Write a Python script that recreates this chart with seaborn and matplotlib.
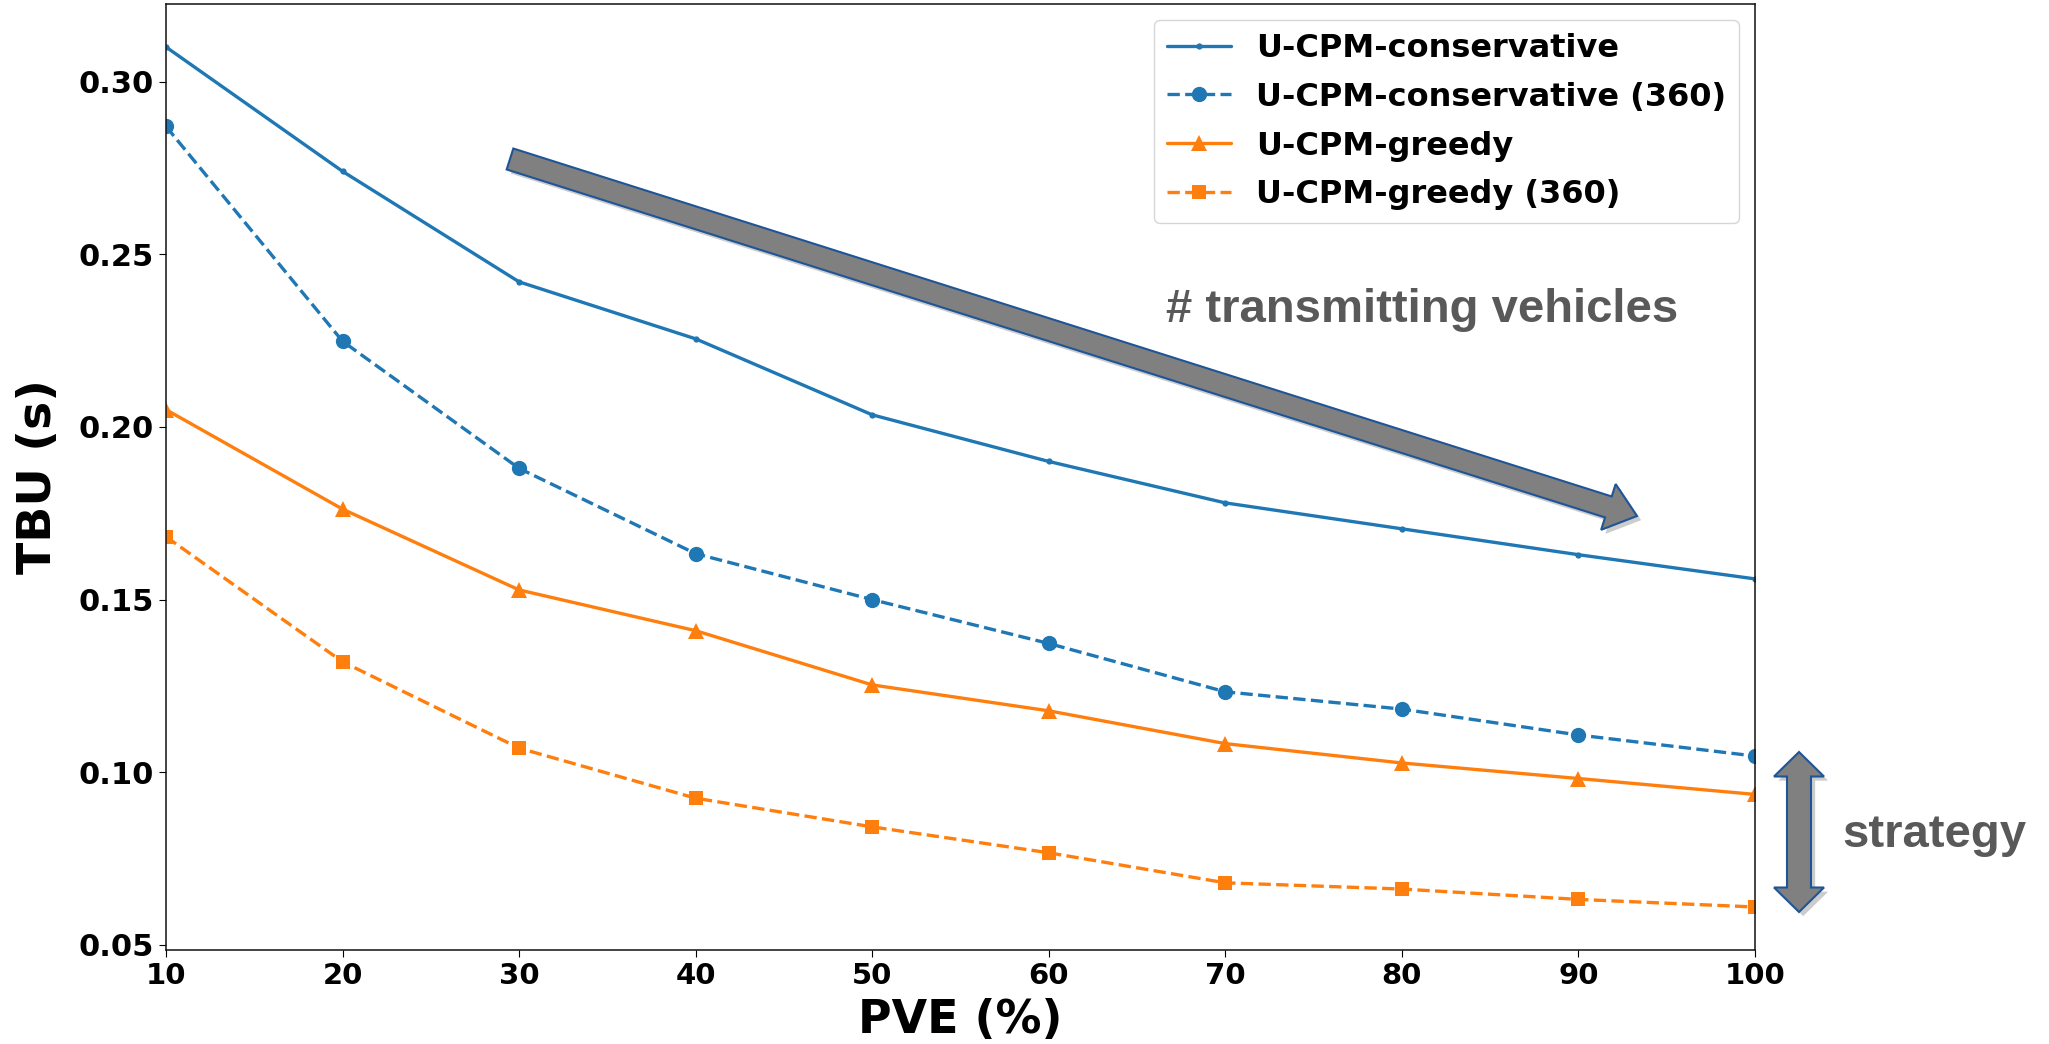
"""
TBU vs PVE for the U-CPM variants, with the two annotation arrows.
"""

import numpy as np
import pandas as pd
import matplotlib
matplotlib.use("Agg")
import matplotlib.pyplot as plt
import matplotlib.patches as mpatches
import matplotlib.patheffects as pe
import seaborn as sns

# values
pve = [10, 20, 30, 40, 50, 60, 70, 80, 90, 100]
conservative = [0.310, 0.274, 0.242, 0.2255, 0.2035, 0.190, 0.178, 0.1705, 0.163, 0.156]
conservative_360 = [0.287, 0.2248, 0.188, 0.1633, 0.150, 0.1373, 0.1233, 0.1183, 0.1108, 0.1047]
greedy = [0.205, 0.1762, 0.1528, 0.141, 0.1253, 0.1178, 0.1083, 0.1027, 0.0982, 0.0936]
greedy_360 = [0.1682, 0.132, 0.107, 0.0925, 0.0842, 0.0767, 0.068, 0.0662, 0.0632, 0.061]

series_names = ["U-CPM-conservative", "U-CPM-conservative (360)",
                "U-CPM-greedy", "U-CPM-greedy (360)"]

df = pd.DataFrame({"PVE": pve * 4,
                   "TBU": conservative + conservative_360 + greedy + greedy_360,
                   "series": np.repeat(series_names, len(pve))})

sns.set_style("ticks")
plt.rcParams['font.family'] = ['DejaVu Sans']
plt.rcParams['font.weight'] = 'bold'
for key in ['text.color', 'axes.labelcolor', 'xtick.color', 'ytick.color']:
    plt.rcParams[key] = 'black'

fig = plt.figure(figsize=(20.49, 10.44), dpi=100)
ax = fig.add_axes([166 / 2049, 94 / 1044, 1589 / 2049, 946 / 1044])

blue, orange = "#1f77b4", "#ff7f0e"
styles = {
    "U-CPM-conservative": dict(color=blue, marker=".", markersize=9, linestyle="-"),
    "U-CPM-conservative (360)": dict(color=blue, marker="o", markersize=11, linestyle="--"),
    "U-CPM-greedy": dict(color=orange, marker="^", markersize=11, linestyle="-"),
    "U-CPM-greedy (360)": dict(color=orange, marker="s", markersize=10, linestyle="--"),
}
for name in series_names:
    sub = df[df["series"] == name]
    sns.lineplot(data=sub, x="PVE", y="TBU", ax=ax, label=name,
                 linewidth=2.4, markeredgewidth=0, **styles[name])

ax.set_xlim(10, 100)
ax.set_xticks(pve)
ax.set_yticks([0.05, 0.10, 0.15, 0.20, 0.25, 0.30])
ax.tick_params(axis="x", labelsize=21, length=5)
ax.tick_params(axis="y", labelsize=22, length=5)
for lab in ax.get_xticklabels() + ax.get_yticklabels():
    lab.set_fontweight("bold")
for sp in ax.spines.values():
    sp.set_visible(True)
    sp.set_linewidth(1.1)
    sp.set_color("#111111")

ax.set_xlabel("PVE (%)", fontsize=33, fontweight="bold")
ax.set_ylabel("TBU (s)", fontsize=34, fontweight="bold")
ax.xaxis.set_label_coords(0.5, -0.051)
ax.yaxis.set_label_coords(-0.066, 0.5)

leg = ax.legend(loc="upper right", fontsize=23, frameon=True, fancybox=True,
                framealpha=0.8, edgecolor="#cccccc", handlelength=2.0,
                labelspacing=0.56)
for t in leg.get_texts():
    t.set_fontweight("bold")

# annotation arrows, positioned in figure inches
shadow = [pe.withSimplePatchShadow(offset=(3, -3), shadow_rgbFace="k", alpha=0.2)]
big = mpatches.FancyArrow(5.10, 8.85, 11.27, -3.57, width=0.22, head_width=0.48,
                          head_length=0.30, length_includes_head=True,
                          transform=fig.dpi_scale_trans, facecolor="#808080",
                          edgecolor="#1f5596", linewidth=1.5, path_effects=shadow)
fig.add_artist(big)

cx, y_top, y_bot = 17.99, 10.44 - 7.52, 10.44 - 9.12
bw, hw, hl = 0.12, 0.25, 0.245
verts = [(cx, y_top), (cx + hw, y_top - hl), (cx + bw, y_top - hl),
         (cx + bw, y_bot + hl), (cx + hw, y_bot + hl), (cx, y_bot),
         (cx - hw, y_bot + hl), (cx - bw, y_bot + hl), (cx - bw, y_top - hl),
         (cx - hw, y_top - hl)]
dbl = mpatches.Polygon(verts, closed=True, transform=fig.dpi_scale_trans,
                       facecolor="#808080", edgecolor="#1f5596", linewidth=1.5,
                       path_effects=shadow)
fig.add_artist(dbl)

fig.text(1422 / 2049, 1 - 310 / 1044, "# transmitting vehicles", fontsize=34,
         fontweight="bold", color="#595959", family="Liberation Sans",
         ha="center", va="center")
fig.text(1934 / 2049, 1 - 835 / 1044, "strategy", fontsize=34,
         fontweight="bold", color="#595959", family="Liberation Sans",
         ha="center", va="center")

fig.savefig("out.png", dpi=100)
